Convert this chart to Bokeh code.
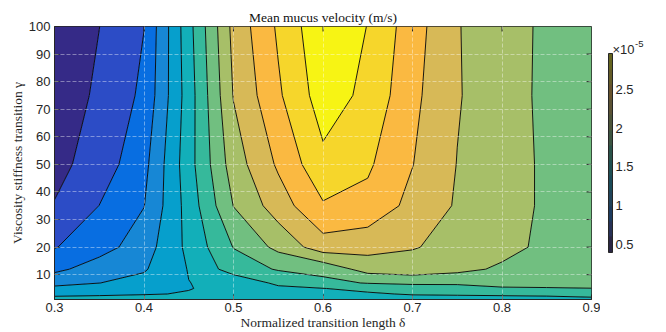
import numpy as np
from bokeh.plotting import figure
from bokeh.layouts import row
from bokeh.models import Range1d, FixedTicker, LinearColorMapper, Label
from bokeh.core.properties import value
from bokeh.embed import file_html
from bokeh.resources import INLINE

# ---------------- data (mean mucus velocity, units of 1e-5 m/s) ----------------
delta = [0.30, 0.35, 0.40, 0.45, 0.50, 0.55, 0.60, 0.65, 0.70, 0.75, 0.80, 0.85, 0.90]
gamma = [1, 3, 5, 7, 12, 20, 35, 50, 75, 100]

v_g1   = [1.47, 1.47, 1.47, 1.48, 1.48, 1.47, 1.47, 1.48, 1.49, 1.50, 1.51, 1.52, 1.55]
v_g3   = [1.35, 1.37, 1.39, 1.409, 1.46, 1.50, 1.52, 1.57, 1.62, 1.63, 1.64, 1.65, 1.67]
v_g5   = [1.24, 1.28, 1.32, 1.395, 1.44, 1.56, 1.595, 1.66, 1.72, 1.73, 1.78, 1.79, 1.798]
v_g7   = [1.15, 1.198, 1.26, 1.397, 1.4575, 1.64, 1.75, 1.81, 1.83, 1.83, 1.86, 1.85, 1.84]
v_g12  = [0.95, 1.10, 1.18, 1.41, 1.695, 1.817, 1.86, 2.083, 2.13, 2.06, 1.966, 1.90, 1.87]
v_g20  = [0.79, 0.9175, 1.105, 1.45, 1.807, 2.054, 2.31, 2.27, 2.21, 2.154, 2.07, 1.95, 1.88]
v_g35  = [0.61, 0.802, 0.995, 1.48, 2.005, 2.30, 2.58, 2.54, 2.34, 2.18, 2.08, 1.97, 1.89]
v_g50  = [0.54, 0.69, 0.94, 1.52, 2.10, 2.43, 2.75, 2.63, 2.405, 2.195, 2.08, 1.97, 1.89]
v_g75  = [0.46, 0.64, 0.84, 1.50, 2.21, 2.57, 2.90, 2.75, 2.45, 2.215, 2.08, 1.96, 1.88]
v_g100 = [0.40, 0.598, 0.797, 1.53, 2.26, 2.63, 2.96, 2.795, 2.49, 2.21, 2.09, 1.96, 1.88]

velocity = np.array([v_g1, v_g3, v_g5, v_g7, v_g12, v_g20, v_g35, v_g50, v_g75, v_g100])

levels = [0.3, 0.6, 0.8, 1.0, 1.2, 1.4, 1.6, 1.8, 2.0, 2.2, 2.4, 2.6, 2.8, 3.1]
band_colors = ["#352a87", "#2c4cc6", "#086ee1", "#1787d5", "#069fcc", "#12afb9",
               "#36b99b", "#71bf80", "#a7bf68", "#d7b957", "#fab941", "#f6d62b", "#f7f414"]

x_ticks = [0.3, 0.4, 0.5, 0.6, 0.7, 0.8, 0.9]
y_ticks = [10, 20, 30, 40, 50, 60, 70, 80, 90, 100]
cbar_ticks = [0.5, 1, 1.5, 2, 2.5]
cbar_labels = ["0.5", "1", "1.5", "2", "2.5"]
cbar_low, cbar_high = 0.40, 2.96

title_text = "Mean mucus velocity (m/s)"
x_label = "Normalized transition length δ"
y_label = "Viscosity stiffness transition γ"
cbar_mult = "×10"
cbar_exp = "-5"

# ---------------- layout constants (pixels) ----------------
H = 332
FRAME_L, FRAME_R, FRAME_T, FRAME_B = 54, 591, 26, 299
FRAME_W, FRAME_H = FRAME_R - FRAME_L, FRAME_B - FRAME_T
MAIN_W = 600
AX = "#262626"
SERIF = "Liberation Serif"
SANS = "Liberation Sans"

# ---------------- main figure ----------------
p = figure(width=MAIN_W, height=H, x_range=Range1d(0.3, 0.9), y_range=Range1d(1, 100),
           output_backend="svg", toolbar_location=None,
           min_border_left=FRAME_L, min_border_right=MAIN_W - FRAME_R,
           min_border_top=FRAME_T, min_border_bottom=H - FRAME_B,
           x_axis_label=x_label, y_axis_label=y_label, title=title_text)
p.background_fill_color = "white"
p.outline_line_color = AX
p.outline_line_width = 1

p.title.align = "center"
p.title.text_font = SERIF
p.title.text_font_size = "13.5px"
p.title.text_font_style = "normal"
p.title.text_color = "#111111"
p.title.standoff = 4

p.contour(x=delta, y=gamma, z=velocity, levels=levels, fill_color=band_colors,
          line_color="black", line_width=0.9)

for ax in (p.xaxis[0], p.yaxis[0]):
    ax.major_tick_in = 5
    ax.major_tick_out = 0
    ax.minor_tick_line_color = None
    ax.axis_line_color = AX
    ax.major_tick_line_color = AX
    ax.major_label_text_font = SANS
    ax.major_label_text_font_size = "13px"
    ax.major_label_text_color = AX
    ax.axis_label_text_font = SERIF
    ax.axis_label_text_font_size = "13.5px"
    ax.axis_label_text_font_style = "normal"
    ax.axis_label_text_color = AX
p.xaxis.ticker = FixedTicker(ticks=x_ticks)
p.yaxis.ticker = FixedTicker(ticks=y_ticks)
p.xaxis.major_label_standoff = 3
p.yaxis.major_label_standoff = 4
p.xaxis.axis_label_standoff = 0
p.yaxis.axis_label_standoff = 1

p.grid.grid_line_color = "white"
p.grid.grid_line_alpha = 0.4
p.grid.grid_line_dash = "4 2"
p.grid.level = "overlay"

# ticks on top and right edges (inside)
dy = 5 * (100 - 1) / FRAME_H
dx = 5 * (0.9 - 0.3) / FRAME_W
tx = x_ticks[1:-1]
p.segment(x0=tx, y0=[100] * len(tx), x1=tx, y1=[100 - dy] * len(tx), line_color=AX, line_width=1)
ty = y_ticks[:-1]
p.segment(x0=[0.9] * len(ty), y0=ty, x1=[0.9 - dx] * len(ty), y1=ty, line_color=AX, line_width=1)

# ---------------- colour bar (separate small figure, frame aligned with main) ----------------
CB_W = 60
BAR_TOP, BAR_BOT = 53, 252          # pixel rows of the bar ends
BAR_X0, BAR_X1 = 8, 12              # pixel columns of the bar inside the strip
u = (cbar_high - cbar_low) / (BAR_BOT - BAR_TOP)
cbp = figure(width=CB_W, height=H, x_range=Range1d(0, CB_W),
             y_range=Range1d(cbar_low - (FRAME_B - BAR_BOT) * u,
                             cbar_high + (BAR_TOP - FRAME_T) * u),
             output_backend="svg", toolbar_location=None,
             x_axis_type=None, y_axis_type=None,
             min_border_left=0, min_border_right=0,
             min_border_top=FRAME_T, min_border_bottom=H - FRAME_B)
cbp.outline_line_color = None
cbp.background_fill_color = "white"

mapper = LinearColorMapper(palette=band_colors, low=cbar_low, high=cbar_high)
grad = np.linspace(cbar_low, cbar_high, 256).reshape(-1, 1)
cbp.quad(left=[BAR_X0], right=[BAR_X1], bottom=[cbar_low], top=[cbar_high],
         fill_color=AX, line_color=None)
cbp.image(image=[grad], x=BAR_X0, y=cbar_low, dw=BAR_X1 - BAR_X0, dh=cbar_high - cbar_low,
          color_mapper=mapper, global_alpha=0.3)
cbp.quad(left=[BAR_X0], right=[BAR_X1], bottom=[cbar_low], top=[cbar_high],
         fill_color=None, line_color=AX, line_width=1)
cbp.text(x=[BAR_X1 + 3] * len(cbar_ticks), y=cbar_ticks, text=cbar_labels,
         text_font=value(SANS), text_font_size="13px", text_align="left",
         text_baseline="middle", text_color=AX)
cbp.add_layout(Label(x=BAR_X1, y=FRAME_B - 49, x_units="screen", y_units="screen",
                     text=cbar_mult, text_font=SANS, text_font_size="13px", text_color=AX,
                     text_baseline="alphabetic"))
cbp.add_layout(Label(x=BAR_X1 + 22.5, y=FRAME_B - 43, x_units="screen", y_units="screen",
                     text=cbar_exp, text_font=SANS, text_font_size="9.5px", text_color=AX,
                     text_baseline="alphabetic"))

layout = row(p, cbp)
open("out.html", "w").write(file_html(layout, INLINE))
